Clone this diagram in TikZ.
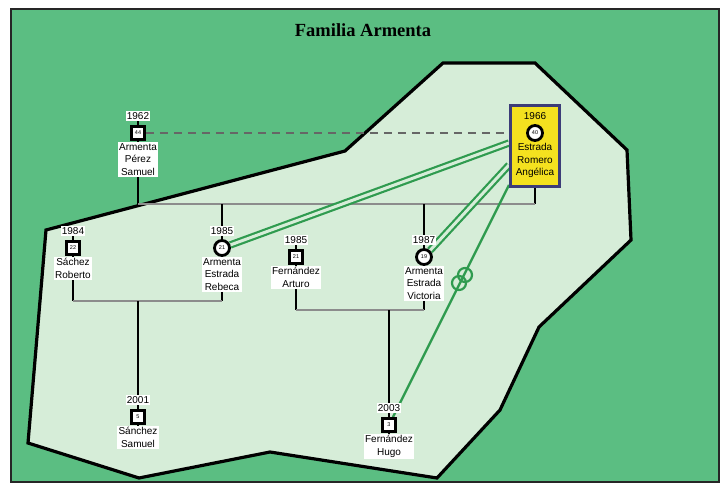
\documentclass[tikz,border=0pt]{standalone}
\usepackage{fontspec}
\setmainfont{Liberation Sans}
\newfontfamily\titlefont{Liberation Serif}
\usetikzlibrary{calc}
\definecolor{bggreen}{HTML}{5BBE82}
\definecolor{lightbg}{HTML}{D6EDD8}
\definecolor{relgreen}{HTML}{2F9B4F}
\definecolor{yellowc}{HTML}{F4E11F}
\definecolor{boxblue}{HTML}{3C3C78}
\pgfdeclarelayer{bg}
\pgfdeclarelayer{lines}
\pgfsetlayers{bg,lines,main}
\tikzset{
  male/.style={rectangle, draw=black, fill=white, line width=2.8pt, minimum size=13pt, inner sep=0pt, font=\fontsize{5.5}{6}\selectfont},
  female/.style={circle, draw=black, fill=white, line width=2.8pt, minimum size=15pt, inner sep=0pt, font=\fontsize{5.5}{6}\selectfont},
  yr/.style={fill=white, inner sep=1.3pt, font=\fontsize{10}{11}\selectfont},
  nm/.style={fill=white, inner sep=1.3pt, align=center, font=\fontsize{10}{12.6}\selectfont},
  kid/.style={draw=black, line width=2.8pt},
  couple/.style={draw=black!45, line width=2.6pt},
  dashrel/.style={draw=black!60, line width=2.8pt, dash pattern=on 8pt off 6pt},
  rel2/.style={draw=relgreen, line width=2.2pt, double=lightbg, double distance=3pt},
  rel1/.style={draw=relgreen, line width=2.4pt},
  ringc/.style={circle, draw=relgreen, line width=2.2pt, minimum size=14pt, inner sep=0pt},
}
% #1 id, #2 x, #3 y, #4 symbol style, #5 age, #6 year, #7 names, #8 label extra style
\newcommand\person[8]{%
  \node[#4] (#1) at (#2,#3) {#5};
  \node[yr,#8] (#1-y) at (#2,#3-17) {#6};
  \node[nm,#8,anchor=north] (#1-n) at (#2,#3+9) {#7};
}
\begin{document}
\begin{tikzpicture}[x=1pt,y=-1pt]
\useasboundingbox (0,0) rectangle (725,487);
\begin{pgfonlayer}{bg}
  \fill[white] (0,0) rectangle (725,487);
  \draw[fill=bggreen, draw=black!85, line width=2pt] (11,9) rectangle (719,482);
  \draw[fill=lightbg, draw=black, line width=3.2pt, line join=miter]
    (46,230) -- (345,151) -- (443,63) -- (535,63) -- (627,150) -- (631,240)
    -- (539,327) -- (500,410) -- (437,478) -- (270,452) -- (139,478) -- (28,443) -- cycle;
\end{pgfonlayer}

\node[font=\titlefont\bfseries\fontsize{18.5}{20}\selectfont] (title) at (363,30) {Familia Armenta};

% Angelica box
\node[draw=boxblue, line width=3pt, fill=yellowc, minimum width=49pt, minimum height=81pt, inner sep=0pt] (ang-box) at (535,146) {};

\person{sam}{138}{133}{male}{44}{1962}{Armenta\\Pérez\\Samuel}{}
\person{ang}{535}{133}{female}{40}{1966}{Estrada\\Romero\\Angélica}{fill=none}
\person{rob}{73}{248}{male}{22}{1984}{Sáchez\\Roberto}{}
\person{reb}{222}{248}{female}{21}{1985}{Armenta\\Estrada\\Rebeca}{}
\person{art}{296}{257}{male}{21}{1985}{Fernández\\Arturo}{}
\person{vic}{424}{257}{female}{19}{1987}{Armenta\\Estrada\\Victoria}{}
\person{samj}{138}{417}{male}{5}{2001}{Sánchez\\Samuel}{}
\person{hug}{389}{425}{male}{3}{2003}{Fernández\\Hugo}{}

\node[ringc] (ring1) at (465,275) {};
\node[ringc] (ring2) at (459,283) {};

\coordinate (c1a) at (138,204);
\coordinate (c1b) at (535,204);
\coordinate (c2a) at (73,301);
\coordinate (c2b) at (222,301);
\coordinate (c2m) at (138,301);
\coordinate (c3a) at (296,310);
\coordinate (c3b) at (424,310);
\coordinate (c3m) at (389,310);

\begin{pgfonlayer}{lines}
  % ticks through person symbols
  \foreach \p in {sam,rob,reb,art,vic,samj,hug}{
    \draw[kid] (\p-y.south) -- (\p-n.north);
  }
  % couple 1
  \draw[kid] (sam-n.south) -- (c1a);
  \draw[kid] (ang-box.south) -- (c1b);
  \draw[couple] (c1a) -- (c1b);
  \draw[kid] (c1a -| reb) -- (reb-y.north);
  \draw[kid] (c1a -| vic) -- (vic-y.north);
  % couple 2
  \draw[kid] (rob-n.south) -- (c2a);
  \draw[kid] (reb-n.south) -- (c2b);
  \draw[couple] (c2a) -- (c2b);
  \draw[kid] (c2m) -- (samj-y.north);
  % couple 3
  \draw[kid] (art-n.south) -- (c3a);
  \draw[kid] (vic-n.south) -- (c3b);
  \draw[couple] (c3a) -- (c3b);
  \draw[kid] (c3m) -- (hug-y.north);
  % relationships
  \draw[dashrel] (sam.east) -- (ang-box.west |- sam);
  \draw[rel2] (ang-box.west |- 0,143) -- (reb);
  \draw[rel2] (ang-box.west |- 0,165) -- (vic);
  \draw[rel1] (ang-box.west |- 0,185) -- (hug);
\end{pgfonlayer}
\end{tikzpicture}
\end{document}
